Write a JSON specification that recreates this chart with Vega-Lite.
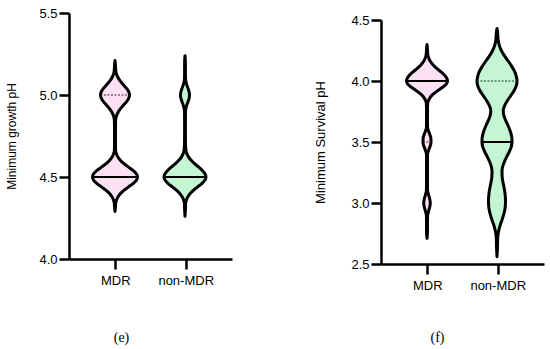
{
  "$schema": "https://vega.github.io/schema/vega-lite/v6.json",
  "background": "white",
  "padding": {"left": 5, "top": 7, "right": 5, "bottom": 5},
  "spacing": 82,
  "datasets": {
    "groups": [{"group": "MDR"}, {"group": "non-MDR"}],
    "violin": [
      {"panel": "growth", "group": "MDR", "pH": 5.21, "d": 0},
      {"panel": "growth", "group": "MDR", "pH": 5.18, "d": 1},
      {"panel": "growth", "group": "MDR", "pH": 5.16, "d": 1.3},
      {"panel": "growth", "group": "MDR", "pH": 5.14, "d": 1.9},
      {"panel": "growth", "group": "MDR", "pH": 5.12, "d": 3.9},
      {"panel": "growth", "group": "MDR", "pH": 5.10, "d": 7.2},
      {"panel": "growth", "group": "MDR", "pH": 5.08, "d": 11.9},
      {"panel": "growth", "group": "MDR", "pH": 5.06, "d": 17.6},
      {"panel": "growth", "group": "MDR", "pH": 5.04, "d": 23.2},
      {"panel": "growth", "group": "MDR", "pH": 5.02, "d": 27.4},
      {"panel": "growth", "group": "MDR", "pH": 5.00, "d": 29},
      {"panel": "growth", "group": "MDR", "pH": 4.98, "d": 27.4},
      {"panel": "growth", "group": "MDR", "pH": 4.96, "d": 23.2},
      {"panel": "growth", "group": "MDR", "pH": 4.94, "d": 17.6},
      {"panel": "growth", "group": "MDR", "pH": 4.92, "d": 11.9},
      {"panel": "growth", "group": "MDR", "pH": 4.90, "d": 7.2},
      {"panel": "growth", "group": "MDR", "pH": 4.88, "d": 3.9},
      {"panel": "growth", "group": "MDR", "pH": 4.86, "d": 1.9},
      {"panel": "growth", "group": "MDR", "pH": 4.84, "d": 1.2},
      {"panel": "growth", "group": "MDR", "pH": 4.80, "d": 1},
      {"panel": "growth", "group": "MDR", "pH": 4.70, "d": 1},
      {"panel": "growth", "group": "MDR", "pH": 4.66, "d": 1.3},
      {"panel": "growth", "group": "MDR", "pH": 4.64, "d": 3.0},
      {"panel": "growth", "group": "MDR", "pH": 4.62, "d": 6.1},
      {"panel": "growth", "group": "MDR", "pH": 4.60, "d": 11.2},
      {"panel": "growth", "group": "MDR", "pH": 4.58, "d": 18.5},
      {"panel": "growth", "group": "MDR", "pH": 4.56, "d": 27.3},
      {"panel": "growth", "group": "MDR", "pH": 4.54, "d": 36},
      {"panel": "growth", "group": "MDR", "pH": 4.52, "d": 42.6},
      {"panel": "growth", "group": "MDR", "pH": 4.50, "d": 45},
      {"panel": "growth", "group": "MDR", "pH": 4.48, "d": 42.6},
      {"panel": "growth", "group": "MDR", "pH": 4.46, "d": 36},
      {"panel": "growth", "group": "MDR", "pH": 4.44, "d": 27.3},
      {"panel": "growth", "group": "MDR", "pH": 4.42, "d": 18.5},
      {"panel": "growth", "group": "MDR", "pH": 4.40, "d": 11.2},
      {"panel": "growth", "group": "MDR", "pH": 4.38, "d": 6.1},
      {"panel": "growth", "group": "MDR", "pH": 4.36, "d": 3.0},
      {"panel": "growth", "group": "MDR", "pH": 4.34, "d": 1.3},
      {"panel": "growth", "group": "MDR", "pH": 4.32, "d": 1},
      {"panel": "growth", "group": "MDR", "pH": 4.29, "d": 0},

      {"panel": "growth", "group": "non-MDR", "pH": 5.24, "d": 0},
      {"panel": "growth", "group": "non-MDR", "pH": 5.20, "d": 0.8},
      {"panel": "growth", "group": "non-MDR", "pH": 5.14, "d": 0.8},
      {"panel": "growth", "group": "non-MDR", "pH": 5.10, "d": 1.0},
      {"panel": "growth", "group": "non-MDR", "pH": 5.08, "d": 1.9},
      {"panel": "growth", "group": "non-MDR", "pH": 5.06, "d": 3.7},
      {"panel": "growth", "group": "non-MDR", "pH": 5.04, "d": 6.1},
      {"panel": "growth", "group": "non-MDR", "pH": 5.02, "d": 8.2},
      {"panel": "growth", "group": "non-MDR", "pH": 5.00, "d": 9},
      {"panel": "growth", "group": "non-MDR", "pH": 4.98, "d": 8.2},
      {"panel": "growth", "group": "non-MDR", "pH": 4.96, "d": 6.1},
      {"panel": "growth", "group": "non-MDR", "pH": 4.94, "d": 3.7},
      {"panel": "growth", "group": "non-MDR", "pH": 4.92, "d": 1.9},
      {"panel": "growth", "group": "non-MDR", "pH": 4.90, "d": 1.0},
      {"panel": "growth", "group": "non-MDR", "pH": 4.80, "d": 0.8},
      {"panel": "growth", "group": "non-MDR", "pH": 4.70, "d": 1.0},
      {"panel": "growth", "group": "non-MDR", "pH": 4.68, "d": 1.4},
      {"panel": "growth", "group": "non-MDR", "pH": 4.66, "d": 2.0},
      {"panel": "growth", "group": "non-MDR", "pH": 4.64, "d": 4.1},
      {"panel": "growth", "group": "non-MDR", "pH": 4.62, "d": 7.6},
      {"panel": "growth", "group": "non-MDR", "pH": 4.60, "d": 12.9},
      {"panel": "growth", "group": "non-MDR", "pH": 4.58, "d": 19.7},
      {"panel": "growth", "group": "non-MDR", "pH": 4.56, "d": 27.4},
      {"panel": "growth", "group": "non-MDR", "pH": 4.54, "d": 34.7},
      {"panel": "growth", "group": "non-MDR", "pH": 4.52, "d": 40},
      {"panel": "growth", "group": "non-MDR", "pH": 4.50, "d": 42},
      {"panel": "growth", "group": "non-MDR", "pH": 4.48, "d": 39.7},
      {"panel": "growth", "group": "non-MDR", "pH": 4.46, "d": 33.6},
      {"panel": "growth", "group": "non-MDR", "pH": 4.44, "d": 25.5},
      {"panel": "growth", "group": "non-MDR", "pH": 4.42, "d": 17.3},
      {"panel": "growth", "group": "non-MDR", "pH": 4.40, "d": 10.5},
      {"panel": "growth", "group": "non-MDR", "pH": 4.38, "d": 5.7},
      {"panel": "growth", "group": "non-MDR", "pH": 4.36, "d": 2.8},
      {"panel": "growth", "group": "non-MDR", "pH": 4.34, "d": 1.2},
      {"panel": "growth", "group": "non-MDR", "pH": 4.30, "d": 0.8},
      {"panel": "growth", "group": "non-MDR", "pH": 4.26, "d": 0},

      {"panel": "survival", "group": "MDR", "pH": 4.30, "d": 0},
      {"panel": "survival", "group": "MDR", "pH": 4.26, "d": 1.0},
      {"panel": "survival", "group": "MDR", "pH": 4.22, "d": 1.5},
      {"panel": "survival", "group": "MDR", "pH": 4.20, "d": 2.6},
      {"panel": "survival", "group": "MDR", "pH": 4.18, "d": 4.4},
      {"panel": "survival", "group": "MDR", "pH": 4.16, "d": 7.0},
      {"panel": "survival", "group": "MDR", "pH": 4.14, "d": 10.6},
      {"panel": "survival", "group": "MDR", "pH": 4.12, "d": 15.1},
      {"panel": "survival", "group": "MDR", "pH": 4.10, "d": 20.5},
      {"panel": "survival", "group": "MDR", "pH": 4.08, "d": 26.3},
      {"panel": "survival", "group": "MDR", "pH": 4.06, "d": 32},
      {"panel": "survival", "group": "MDR", "pH": 4.04, "d": 36.7},
      {"panel": "survival", "group": "MDR", "pH": 4.02, "d": 39.9},
      {"panel": "survival", "group": "MDR", "pH": 4.00, "d": 41},
      {"panel": "survival", "group": "MDR", "pH": 3.98, "d": 39.4},
      {"panel": "survival", "group": "MDR", "pH": 3.96, "d": 34.8},
      {"panel": "survival", "group": "MDR", "pH": 3.94, "d": 28.4},
      {"panel": "survival", "group": "MDR", "pH": 3.92, "d": 21.3},
      {"panel": "survival", "group": "MDR", "pH": 3.90, "d": 14.8},
      {"panel": "survival", "group": "MDR", "pH": 3.88, "d": 9.4},
      {"panel": "survival", "group": "MDR", "pH": 3.86, "d": 5.5},
      {"panel": "survival", "group": "MDR", "pH": 3.84, "d": 3.0},
      {"panel": "survival", "group": "MDR", "pH": 3.82, "d": 1.5},
      {"panel": "survival", "group": "MDR", "pH": 3.78, "d": 1.0},
      {"panel": "survival", "group": "MDR", "pH": 3.66, "d": 1.0},
      {"panel": "survival", "group": "MDR", "pH": 3.62, "d": 1.1},
      {"panel": "survival", "group": "MDR", "pH": 3.60, "d": 2.2},
      {"panel": "survival", "group": "MDR", "pH": 3.58, "d": 3.9},
      {"panel": "survival", "group": "MDR", "pH": 3.56, "d": 5.8},
      {"panel": "survival", "group": "MDR", "pH": 3.54, "d": 7.4},
      {"panel": "survival", "group": "MDR", "pH": 3.52, "d": 7.9},
      {"panel": "survival", "group": "MDR", "pH": 3.50, "d": 8},
      {"panel": "survival", "group": "MDR", "pH": 3.48, "d": 7.4},
      {"panel": "survival", "group": "MDR", "pH": 3.46, "d": 5.8},
      {"panel": "survival", "group": "MDR", "pH": 3.44, "d": 3.9},
      {"panel": "survival", "group": "MDR", "pH": 3.42, "d": 2.2},
      {"panel": "survival", "group": "MDR", "pH": 3.40, "d": 1.1},
      {"panel": "survival", "group": "MDR", "pH": 3.36, "d": 1.0},
      {"panel": "survival", "group": "MDR", "pH": 3.16, "d": 1.0},
      {"panel": "survival", "group": "MDR", "pH": 3.12, "d": 1.1},
      {"panel": "survival", "group": "MDR", "pH": 3.10, "d": 1.3},
      {"panel": "survival", "group": "MDR", "pH": 3.08, "d": 2.3},
      {"panel": "survival", "group": "MDR", "pH": 3.06, "d": 3.6},
      {"panel": "survival", "group": "MDR", "pH": 3.04, "d": 5.0},
      {"panel": "survival", "group": "MDR", "pH": 3.02, "d": 6.1},
      {"panel": "survival", "group": "MDR", "pH": 3.00, "d": 6.5},
      {"panel": "survival", "group": "MDR", "pH": 2.98, "d": 6.1},
      {"panel": "survival", "group": "MDR", "pH": 2.96, "d": 5.0},
      {"panel": "survival", "group": "MDR", "pH": 2.94, "d": 3.6},
      {"panel": "survival", "group": "MDR", "pH": 2.92, "d": 2.3},
      {"panel": "survival", "group": "MDR", "pH": 2.90, "d": 1.3},
      {"panel": "survival", "group": "MDR", "pH": 2.86, "d": 1.0},
      {"panel": "survival", "group": "MDR", "pH": 2.76, "d": 1.0},
      {"panel": "survival", "group": "MDR", "pH": 2.71, "d": 0},

      {"panel": "survival", "group": "non-MDR", "pH": 4.43, "d": 0},
      {"panel": "survival", "group": "non-MDR", "pH": 4.40, "d": 1.2},
      {"panel": "survival", "group": "non-MDR", "pH": 4.36, "d": 1.8},
      {"panel": "survival", "group": "non-MDR", "pH": 4.32, "d": 3},
      {"panel": "survival", "group": "non-MDR", "pH": 4.28, "d": 5.5},
      {"panel": "survival", "group": "non-MDR", "pH": 4.24, "d": 10},
      {"panel": "survival", "group": "non-MDR", "pH": 4.20, "d": 16},
      {"panel": "survival", "group": "non-MDR", "pH": 4.16, "d": 23},
      {"panel": "survival", "group": "non-MDR", "pH": 4.12, "d": 29.5},
      {"panel": "survival", "group": "non-MDR", "pH": 4.08, "d": 35},
      {"panel": "survival", "group": "non-MDR", "pH": 4.04, "d": 38.5},
      {"panel": "survival", "group": "non-MDR", "pH": 4.00, "d": 40},
      {"panel": "survival", "group": "non-MDR", "pH": 3.96, "d": 38.5},
      {"panel": "survival", "group": "non-MDR", "pH": 3.92, "d": 34},
      {"panel": "survival", "group": "non-MDR", "pH": 3.88, "d": 27.5},
      {"panel": "survival", "group": "non-MDR", "pH": 3.84, "d": 21},
      {"panel": "survival", "group": "non-MDR", "pH": 3.80, "d": 15.5},
      {"panel": "survival", "group": "non-MDR", "pH": 3.76, "d": 12.5},
      {"panel": "survival", "group": "non-MDR", "pH": 3.72, "d": 13.5},
      {"panel": "survival", "group": "non-MDR", "pH": 3.68, "d": 17},
      {"panel": "survival", "group": "non-MDR", "pH": 3.64, "d": 21.5},
      {"panel": "survival", "group": "non-MDR", "pH": 3.60, "d": 25.5},
      {"panel": "survival", "group": "non-MDR", "pH": 3.56, "d": 28.5},
      {"panel": "survival", "group": "non-MDR", "pH": 3.52, "d": 30},
      {"panel": "survival", "group": "non-MDR", "pH": 3.50, "d": 30},
      {"panel": "survival", "group": "non-MDR", "pH": 3.46, "d": 28.5},
      {"panel": "survival", "group": "non-MDR", "pH": 3.42, "d": 24.5},
      {"panel": "survival", "group": "non-MDR", "pH": 3.38, "d": 19.5},
      {"panel": "survival", "group": "non-MDR", "pH": 3.34, "d": 15},
      {"panel": "survival", "group": "non-MDR", "pH": 3.30, "d": 11.5},
      {"panel": "survival", "group": "non-MDR", "pH": 3.26, "d": 10},
      {"panel": "survival", "group": "non-MDR", "pH": 3.22, "d": 10.2},
      {"panel": "survival", "group": "non-MDR", "pH": 3.18, "d": 11.5},
      {"panel": "survival", "group": "non-MDR", "pH": 3.14, "d": 13.5},
      {"panel": "survival", "group": "non-MDR", "pH": 3.10, "d": 15.3},
      {"panel": "survival", "group": "non-MDR", "pH": 3.06, "d": 16.5},
      {"panel": "survival", "group": "non-MDR", "pH": 3.02, "d": 17},
      {"panel": "survival", "group": "non-MDR", "pH": 2.98, "d": 16.7},
      {"panel": "survival", "group": "non-MDR", "pH": 2.94, "d": 15.5},
      {"panel": "survival", "group": "non-MDR", "pH": 2.90, "d": 13},
      {"panel": "survival", "group": "non-MDR", "pH": 2.86, "d": 10},
      {"panel": "survival", "group": "non-MDR", "pH": 2.82, "d": 6.5},
      {"panel": "survival", "group": "non-MDR", "pH": 2.78, "d": 3.8},
      {"panel": "survival", "group": "non-MDR", "pH": 2.74, "d": 2},
      {"panel": "survival", "group": "non-MDR", "pH": 2.70, "d": 1.3},
      {"panel": "survival", "group": "non-MDR", "pH": 2.64, "d": 1.0},
      {"panel": "survival", "group": "non-MDR", "pH": 2.56, "d": 0}
    ]
  },
  "hconcat": [
    {
      "width": 163,
      "height": 246,
      "layer": [
        {
          "data": {"name": "violin"},
          "transform": [{"filter": "datum.panel === 'growth' && datum.group === 'MDR'"}, {"stack": "d", "groupby": ["pH"], "offset": "center", "as": ["lo", "hi"]}],
          "mark": {"type": "area", "orient": "horizontal", "interpolate": "monotone", "fill": "#fbe1f3", "stroke": "black", "strokeWidth": 3, "strokeJoin": "round"},
          "encoding": {
            "x": {"field": "lo", "type": "quantitative", "scale": {"domain": [-23.5, 139.5], "nice": false, "zero": false}, "axis": null},
            "x2": {"field": "hi"},
            "y": {"field": "pH", "type": "quantitative", "scale": {"domain": [4, 5.5], "nice": false, "zero": false},
                  "axis": {"values": [4, 4.5, 5, 5.5], "format": ".1f", "title": "Minimum growth pH", "titleFontSize": 12, "titlePadding": 20, "labelPadding": 2}}
          }
        },
        {
          "data": {"name": "violin"},
          "transform": [{"filter": "datum.panel === 'growth' && datum.group === 'MDR'"}, {"stack": "d", "groupby": ["pH"], "offset": "center", "as": ["lo", "hi"]}, {"filter": {"field": "pH", "equal": 4.5}}],
          "mark": {"type": "rule", "stroke": "black", "strokeWidth": 2},
          "encoding": {
            "x": {"field": "lo", "type": "quantitative", "scale": {"domain": [-23.5, 139.5], "nice": false, "zero": false}, "axis": null},
            "x2": {"field": "hi"},
            "y": {"field": "pH", "type": "quantitative"}
          }
        },
        {
          "data": {"name": "violin"},
          "transform": [{"filter": "datum.panel === 'growth' && datum.group === 'MDR'"}, {"stack": "d", "groupby": ["pH"], "offset": "center", "as": ["lo", "hi"]}, {"filter": {"field": "pH", "equal": 5}}],
          "mark": {"type": "rule", "stroke": "#3a2040", "strokeWidth": 1.2, "strokeDash": [2, 1.5]},
          "encoding": {
            "x": {"field": "lo", "type": "quantitative", "scale": {"domain": [-23.5, 139.5], "nice": false, "zero": false}, "axis": null},
            "x2": {"field": "hi"},
            "y": {"field": "pH", "type": "quantitative"}
          }
        },
        {
          "data": {"name": "violin"},
          "transform": [{"filter": "datum.panel === 'growth' && datum.group === 'non-MDR'"}, {"stack": "d", "groupby": ["pH"], "offset": "center", "as": ["lo", "hi"]}],
          "mark": {"type": "area", "orient": "horizontal", "interpolate": "monotone", "fill": "#c4f6d4", "stroke": "black", "strokeWidth": 3, "strokeJoin": "round"},
          "encoding": {
            "x": {"field": "lo", "type": "quantitative", "scale": {"domain": [-95, 68], "nice": false, "zero": false}, "axis": null},
            "x2": {"field": "hi"},
            "y": {"field": "pH", "type": "quantitative"}
          }
        },
        {
          "data": {"name": "violin"},
          "transform": [{"filter": "datum.panel === 'growth' && datum.group === 'non-MDR'"}, {"stack": "d", "groupby": ["pH"], "offset": "center", "as": ["lo", "hi"]}, {"filter": {"field": "pH", "equal": 4.5}}],
          "mark": {"type": "rule", "stroke": "black", "strokeWidth": 2},
          "encoding": {
            "x": {"field": "lo", "type": "quantitative", "scale": {"domain": [-95, 68], "nice": false, "zero": false}, "axis": null},
            "x2": {"field": "hi"},
            "y": {"field": "pH", "type": "quantitative"}
          }
        },
        {
          "data": {"name": "groups"},
          "mark": {"type": "point", "opacity": 0},
          "encoding": {
            "x": {"field": "group", "type": "nominal", "sort": ["MDR", "non-MDR"], "scale": {"type": "point", "padding": 0.657},
                  "axis": {"labelAngle": 0, "labelPadding": 5, "title": "(e)", "titleFont": "Liberation Serif", "titleFontSize": 14, "titleX": 52, "titleY": 78, "titleAlign": "center", "titleBaseline": "middle"}}
          }
        }
      ],
      "resolve": {"scale": {"x": "independent"}, "axis": {"x": "independent"}}
    },
    {
      "spacing": 0,
      "vconcat": [
        {
          "width": 163,
          "height": 1,
          "data": {"name": "groups"},
          "mark": {"type": "point", "opacity": 0, "size": 0},
          "encoding": {}
        },
        {
          "width": 163,
          "height": 244,
          "layer": [
            {
              "data": {"name": "violin"},
              "transform": [{"filter": "datum.panel === 'survival' && datum.group === 'MDR'"}, {"stack": "d", "groupby": ["pH"], "offset": "center", "as": ["lo", "hi"]}],
              "mark": {"type": "area", "orient": "horizontal", "interpolate": "monotone", "fill": "#fbe1f3", "stroke": "black", "strokeWidth": 3, "strokeJoin": "round"},
              "encoding": {
                "x": {"field": "lo", "type": "quantitative", "scale": {"domain": [-25.5, 137.5], "nice": false, "zero": false}, "axis": null},
                "x2": {"field": "hi"},
                "y": {"field": "pH", "type": "quantitative", "scale": {"domain": [2.5, 4.5], "nice": false, "zero": false},
                      "axis": {"values": [2.5, 3, 3.5, 4, 4.5], "format": ".1f", "title": "Minimum Survival  pH", "titleFontSize": 13, "titlePadding": 23, "labelPadding": 2}}
              }
            },
            {
              "data": {"name": "violin"},
              "transform": [{"filter": "datum.panel === 'survival' && datum.group === 'MDR'"}, {"stack": "d", "groupby": ["pH"], "offset": "center", "as": ["lo", "hi"]}, {"filter": {"field": "pH", "equal": 4}}],
              "mark": {"type": "rule", "stroke": "black", "strokeWidth": 2},
              "encoding": {
                "x": {"field": "lo", "type": "quantitative", "scale": {"domain": [-25.5, 137.5], "nice": false, "zero": false}, "axis": null},
                "x2": {"field": "hi"},
                "y": {"field": "pH", "type": "quantitative"}
              }
            },
            {
              "data": {"name": "violin"},
              "transform": [{"filter": "datum.panel === 'survival' && datum.group === 'MDR'"}, {"stack": "d", "groupby": ["pH"], "offset": "center", "as": ["lo", "hi"]}, {"filter": {"field": "pH", "equal": 3.5}}],
              "mark": {"type": "rule", "stroke": "#3a2040", "strokeWidth": 1.2, "strokeDash": [2, 1.5]},
              "encoding": {
                "x": {"field": "lo", "type": "quantitative", "scale": {"domain": [-25.5, 137.5], "nice": false, "zero": false}, "axis": null},
                "x2": {"field": "hi"},
                "y": {"field": "pH", "type": "quantitative"}
              }
            },
            {
              "data": {"name": "violin"},
              "transform": [{"filter": "datum.panel === 'survival' && datum.group === 'non-MDR'"}, {"stack": "d", "groupby": ["pH"], "offset": "center", "as": ["lo", "hi"]}],
              "mark": {"type": "area", "orient": "horizontal", "interpolate": "monotone", "fill": "#c4f6d4", "stroke": "black", "strokeWidth": 3, "strokeJoin": "round"},
              "encoding": {
                "x": {"field": "lo", "type": "quantitative", "scale": {"domain": [-96, 67], "nice": false, "zero": false}, "axis": null},
                "x2": {"field": "hi"},
                "y": {"field": "pH", "type": "quantitative"}
              }
            },
            {
              "data": {"name": "violin"},
              "transform": [{"filter": "datum.panel === 'survival' && datum.group === 'non-MDR'"}, {"stack": "d", "groupby": ["pH"], "offset": "center", "as": ["lo", "hi"]}, {"filter": {"field": "pH", "equal": 3.5}}],
              "mark": {"type": "rule", "stroke": "black", "strokeWidth": 2},
              "encoding": {
                "x": {"field": "lo", "type": "quantitative", "scale": {"domain": [-96, 67], "nice": false, "zero": false}, "axis": null},
                "x2": {"field": "hi"},
                "y": {"field": "pH", "type": "quantitative"}
              }
            },
            {
              "data": {"name": "violin"},
              "transform": [{"filter": "datum.panel === 'survival' && datum.group === 'non-MDR'"}, {"stack": "d", "groupby": ["pH"], "offset": "center", "as": ["lo", "hi"]}, {"filter": {"field": "pH", "equal": 4}}],
              "mark": {"type": "rule", "stroke": "#203a28", "strokeWidth": 1.2, "strokeDash": [2, 1.5]},
              "encoding": {
                "x": {"field": "lo", "type": "quantitative", "scale": {"domain": [-96, 67], "nice": false, "zero": false}, "axis": null},
                "x2": {"field": "hi"},
                "y": {"field": "pH", "type": "quantitative"}
              }
            },
            {
              "data": {"name": "groups"},
              "mark": {"type": "point", "opacity": 0},
              "encoding": {
                "x": {"field": "group", "type": "nominal", "sort": ["MDR", "non-MDR"], "scale": {"type": "point", "padding": 0.657},
                      "axis": {"labelAngle": 0, "labelPadding": 5, "title": "(f)", "titleFont": "Liberation Serif", "titleFontSize": 14, "titleX": 56, "titleY": 73, "titleAlign": "center", "titleBaseline": "middle"}}
              }
            }
          ],
          "resolve": {"scale": {"x": "independent"}, "axis": {"x": "independent"}}
        }
      ]
    }
  ],
  "config": {
    "view": {"stroke": null},
    "font": "Liberation Sans",
    "axis": {
      "grid": false,
      "domainColor": "black",
      "domainWidth": 2.5,
      "tickColor": "black",
      "tickWidth": 2.5,
      "tickSize": 10,
      "labelColor": "black",
      "labelFont": "Liberation Sans",
      "labelFontSize": 13,
      "titleFont": "Liberation Sans",
      "titleFontWeight": "normal",
      "titleColor": "black"
    }
  }
}
